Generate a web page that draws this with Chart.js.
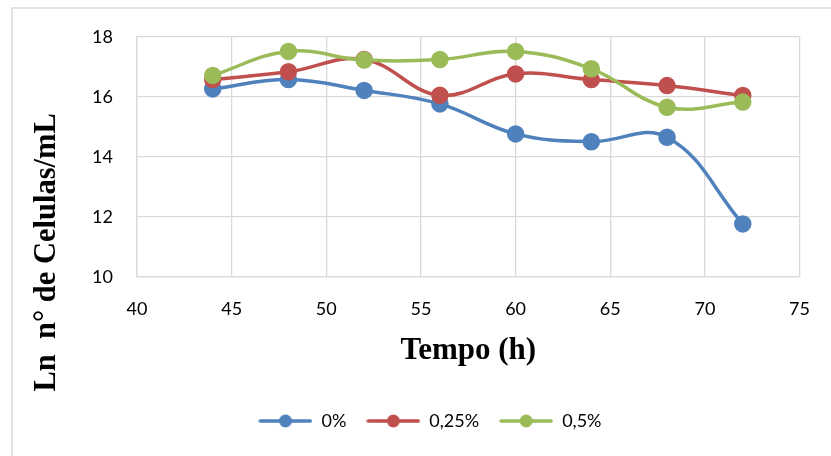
<!DOCTYPE html>
<html>
<head>
<meta charset="utf-8">
<script src="https://cdn.jsdelivr.net/npm/chart.js@4.4.1/dist/chart.umd.min.js"></script>
<style>
  html, body { margin: 0; padding: 0; background: #ffffff; }
  #wrap { position: relative; width: 831px; height: 456px; }
</style>
</head>
<body>
<div id="wrap"><canvas id="chart" width="831" height="456"></canvas></div>
<script>
// Culture time (h) and ln of cell count per mL for each concentration
const hours = [44, 48, 52, 56, 60, 64, 68, 72];
const pct0 = [16.27, 16.58, 16.22, 15.77, 14.77, 14.51, 14.66, 11.77];
const pct025 = [16.58, 16.84, 17.25, 16.06, 16.77, 16.58, 16.38, 16.05];
const pct05 = [16.72, 17.52, 17.23, 17.25, 17.52, 16.94, 15.66, 15.83];
const seriesNames = ['0%', '0,25%', '0,5%'];
const seriesColors = ['#4f81bd', '#c0504d', '#9bbb59'];
const xTicks = [40, 45, 50, 55, 60, 65, 70, 75];
const yTicks = [10, 12, 14, 16, 18];

const tickFont = { family: 'Lato, "Open Sans", sans-serif', size: 18 };
const xTitleFont = { family: '"Liberation Serif", "Times New Roman", serif', size: 31, weight: 'bold' };
const yTitleFont = { family: '"Liberation Serif", "Times New Roman", serif', size: 30.5, weight: 'bold' };
const gridColor = '#d9d9d9';

// y title is anchored at the top of the axis; trailing spaces push it down
// so it sits centred on the whole frame rather than the plot area
const yTitleText = 'Ln  n° de Celulas/mL' + ' '.repeat(10);

// legend symbol: short line with a round marker in the middle
function legendSymbol(color) {
  const c = document.createElement('canvas');
  c.width = 54; c.height = 16;
  const g = c.getContext('2d');
  g.strokeStyle = color; g.lineWidth = 3.5; g.lineCap = 'round';
  g.beginPath(); g.moveTo(2, 8); g.lineTo(52, 8); g.stroke();
  g.fillStyle = color;
  g.beginPath(); g.arc(27, 8, 6.5, 0, Math.PI * 2); g.fill();
  return c;
}

function toPoints(values) {
  return hours.map((h, i) => ({ x: h, y: values[i] }));
}

const seriesValues = [pct0, pct025, pct05];
const datasets = seriesValues.map((vals, i) => ({
  label: seriesNames[i],
  data: toPoints(vals),
  borderColor: seriesColors[i],
  backgroundColor: seriesColors[i],
  pointBackgroundColor: seriesColors[i],
  pointBorderColor: seriesColors[i],
  borderWidth: 3.5,
  pointRadius: 7,
  pointHoverRadius: 7,
  tension: 0.4,
  showLine: true,
  order: seriesValues.length - i
}));

// outer chart frame
const framePlugin = {
  id: 'frame',
  beforeDraw(chart) {
    const ctx = chart.ctx;
    ctx.save();
    ctx.fillStyle = '#ffffff';
    ctx.fillRect(0, 0, chart.width, chart.height);
    ctx.strokeStyle = '#d9d9d9';
    ctx.lineWidth = 1.5;
    ctx.strokeRect(12, 8, chart.width + 20, chart.height + 20);
    ctx.restore();
  }
};

new Chart(document.getElementById('chart'), {
  type: 'scatter',
  data: { datasets },
  plugins: [framePlugin],
  options: {
    responsive: false,
    animation: false,
    layout: { padding: { left: 58, right: 29, top: 37, bottom: 16 } },
    plugins: {
      tooltip: { enabled: false },
      legend: {
        position: 'bottom',
        labels: {
          font: tickFont,
          color: '#000000',
          usePointStyle: true,
          pointStyleWidth: 54,
          boxHeight: 16,
          padding: 20,
          generateLabels(chart) {
            return chart.data.datasets.map((ds, i) => ({
              text: ds.label,
              pointStyle: legendSymbol(ds.borderColor),
              fillStyle: ds.borderColor,
              strokeStyle: ds.borderColor,
              lineWidth: 0,
              fontColor: '#000000',
              hidden: false,
              datasetIndex: i
            }));
          }
        }
      }
    },
    scales: {
      x: {
        type: 'linear',
        min: xTicks[0],
        max: xTicks[xTicks.length - 1],
        afterBuildTicks(scale) { scale.ticks = xTicks.map(v => ({ value: v })); },
        ticks: { font: tickFont, color: '#000000', padding: 21, maxRotation: 0 },
        grid: { color: gridColor, lineWidth: 1.3, drawTicks: false },
        border: { color: gridColor, width: 1.3 },
        title: {
          display: true,
          text: 'Tempo (h)',
          font: xTitleFont,
          color: '#000000',
          padding: { top: 0, bottom: 22 }
        },
        afterFit(scale) { scale.height = 115; }
      },
      y: {
        type: 'linear',
        min: yTicks[0],
        max: yTicks[yTicks.length - 1],
        afterBuildTicks(scale) { scale.ticks = yTicks.map(v => ({ value: v })); },
        ticks: { font: tickFont, color: '#000000', padding: 24 },
        grid: { color: gridColor, lineWidth: 1.3, drawTicks: false },
        border: { color: gridColor, width: 1.3 },
        title: {
          display: true,
          text: yTitleText,
          align: 'end',
          font: yTitleFont,
          color: '#000000',
          padding: { top: -29, bottom: 0 }
        },
        afterFit(scale) { scale.width = 79; }
      }
    }
  }
});
</script>
</body>
</html>
